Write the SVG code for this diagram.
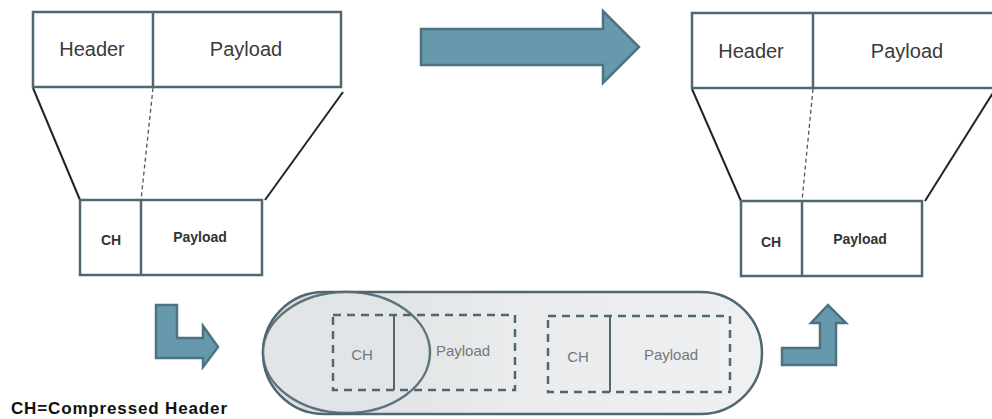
<svg xmlns="http://www.w3.org/2000/svg" width="992" height="419" viewBox="0 0 992 419">
<style>
.box{fill:#fff;stroke:#4f6770;stroke-width:2.5}
.div{stroke:#4f6770;stroke-width:2.5}
.big{font-family:"Liberation Sans",Arial,sans-serif;font-size:20px;fill:#3a3a3a;text-anchor:middle}
.sm{font-family:"Liberation Sans",Arial,sans-serif;font-size:14px;font-weight:bold;fill:#333;text-anchor:middle}
.gray{font-family:"Liberation Sans",Arial,sans-serif;font-size:15px;fill:#777;text-anchor:middle}
.diag{stroke:#222;stroke-width:2;fill:none}
.dash{stroke:#555;stroke-width:1.3;stroke-dasharray:4 3;fill:none}
.dbox{fill:none;stroke:#4f6770;stroke-width:2.5;stroke-dasharray:8 6}
.arrow{fill:#6799ad;stroke:#4d7383;stroke-width:2.5;stroke-linejoin:miter}
</style>
<defs>
<linearGradient id="cap" x1="0" y1="0" x2="1" y2="0">
<stop offset="0" stop-color="#dadee0"/>
<stop offset="0.5" stop-color="#e9ebec"/>
<stop offset="1" stop-color="#eef0f1"/>
</linearGradient>
</defs>
<rect width="992" height="419" fill="#fff"/>

<g id="connectors">
<line class="diag" x1="33" y1="88" x2="80" y2="200"/>
<line class="diag" x1="343" y1="92" x2="265" y2="200"/>
<line class="dash" x1="153" y1="88" x2="141" y2="200"/>
<line class="diag" x1="692" y1="89" x2="741" y2="201"/>
<line class="diag" x1="996" y1="88" x2="925" y2="201"/>
<line class="dash" x1="813" y1="89" x2="802" y2="201"/>
</g>

<g id="top-left-packet">
<rect class="box" x="33" y="12" width="308" height="75"/>
<line class="div" x1="153" y1="12" x2="153" y2="87"/>
<text class="big" x="92" y="56">Header</text>
<text class="big" x="246" y="56">Payload</text>
</g>

<g id="bottom-left-packet">
<rect class="box" x="80" y="200" width="182" height="75"/>
<line class="div" x1="141" y1="200" x2="141" y2="275"/>
<text class="sm" x="111" y="245">CH</text>
<text class="sm" x="200" y="242">Payload</text>
</g>

<g id="top-right-packet">
<rect class="box" x="692" y="13" width="310" height="75"/>
<line class="div" x1="813" y1="13" x2="813" y2="88"/>
<text class="big" x="751" y="58">Header</text>
<text class="big" x="907" y="58">Payload</text>
</g>

<g id="bottom-right-packet">
<rect class="box" x="741" y="201" width="181" height="75"/>
<line class="div" x1="802" y1="201" x2="802" y2="276"/>
<text class="sm" x="771" y="247">CH</text>
<text class="sm" x="860" y="244">Payload</text>
</g>

<g id="arrow-main">
<polygon class="arrow" points="421,29 603,29 603,11 639,47 603,83 603,65 421,65"/>
</g>
<g id="arrow-down-right">
<polygon class="arrow" points="156,305 177,305 177,338 203,338 203,326 218,347 203,367 203,358 156,358"/>
</g>
<g id="arrow-up-right">
<polygon class="arrow" points="782,348 820,348 820,323 811,323 828,305 846,323 836,323 836,365 782,365"/>
</g>

<g id="tunnel">
<rect x="263" y="292" width="499" height="122" rx="61" ry="61" fill="url(#cap)" stroke="#4f6770" stroke-width="2.5"/>
<ellipse cx="346.5" cy="352.5" rx="83.5" ry="60.5" fill="#e2e5e7"/>
<rect class="dbox" x="333" y="315" width="182" height="75"/>
<line x1="394" y1="315" x2="394" y2="390" stroke="#4f6770" stroke-width="2"/>
<text class="gray" x="362" y="360">CH</text>
<text class="gray" x="463" y="356">Payload</text>
<rect class="dbox" x="548" y="316" width="182" height="76"/>
<line x1="610" y1="316" x2="610" y2="392" stroke="#4f6770" stroke-width="2"/>
<text class="gray" x="578" y="362">CH</text>
<text class="gray" x="671" y="360">Payload</text>
<ellipse cx="346.5" cy="352.5" rx="83.5" ry="60.5" fill="none" stroke="#4f6770" stroke-width="2.5" stroke-opacity="0.9"/>
</g>

<g id="legend">
<text x="11" y="414" font-family="Liberation Sans,Arial,sans-serif" font-size="17" font-weight="bold" fill="#111" textLength="216">CH=Compressed Header</text>
</g>
</svg>
